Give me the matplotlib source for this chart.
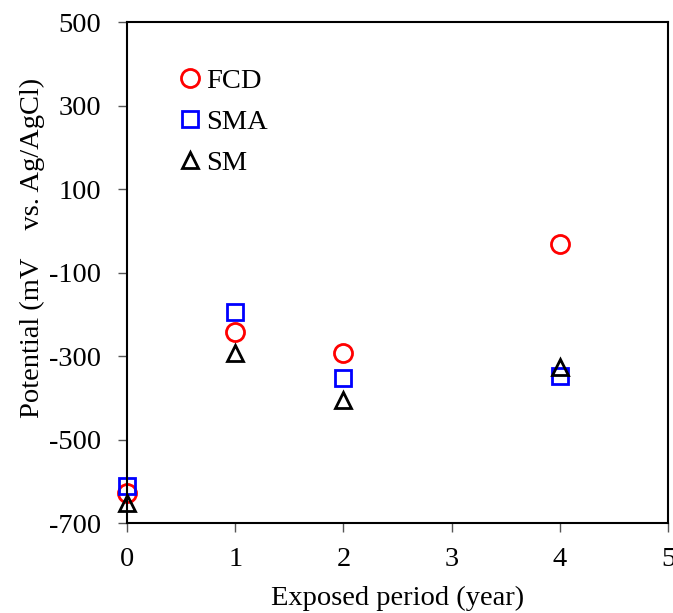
import matplotlib.pyplot as plt

plt.rcParams['font.family'] = ['Liberation Serif', 'DejaVu Serif']
plt.rcParams['axes.unicode_minus'] = False

years = [0, 1, 2, 4]
fcd = [-628, -242, -293, -32]
sma = [-611, -195, -353, -348]
sm = [-652, -293, -405, -326]

fig = plt.figure(figsize=(6.73, 6.13), dpi=100)
ax = fig.add_axes([0.1887, 0.1468, 0.8039, 0.8173])

fs = 20.5
ax.plot(years, fcd, 'o', ls='none', mfc='none', mec='#ff0000', mew=2, ms=13, label='FCD', clip_on=False)
ax.plot(years, sma, 's', ls='none', mfc='none', mec='#0000ff', mew=2, ms=12, label='SMA', clip_on=False)
ax.plot(years, sm, '^', ls='none', mfc='none', mec='black', mew=2, ms=12, label='SM', clip_on=False)

ax.set_xlim(0, 5)
ax.set_ylim(-700, 500)
ax.set_xticks(range(0, 6))
ax.set_yticks(range(-700, 501, 200))
ax.tick_params(direction='out', length=6.5, width=1, labelsize=fs, color='#555555')
ax.tick_params(axis='y', pad=12)
ax.tick_params(axis='x', pad=11)
for s in ax.spines.values():
    s.set_linewidth(1.5)

ax.set_xlabel('Exposed period (year)', fontsize=fs, labelpad=10)
ax.set_ylabel('Potential (mV    vs. Ag/AgCl)', fontsize=fs)
ax.yaxis.set_label_coords(-0.152, 0.55)

ax.legend(loc='upper left', bbox_to_anchor=(0.077, 0.93), frameon=False, fontsize=fs,
          handlelength=0.7, handletextpad=0.2, labelspacing=0.52, borderaxespad=0)

fig.savefig('out.png', dpi=100)
